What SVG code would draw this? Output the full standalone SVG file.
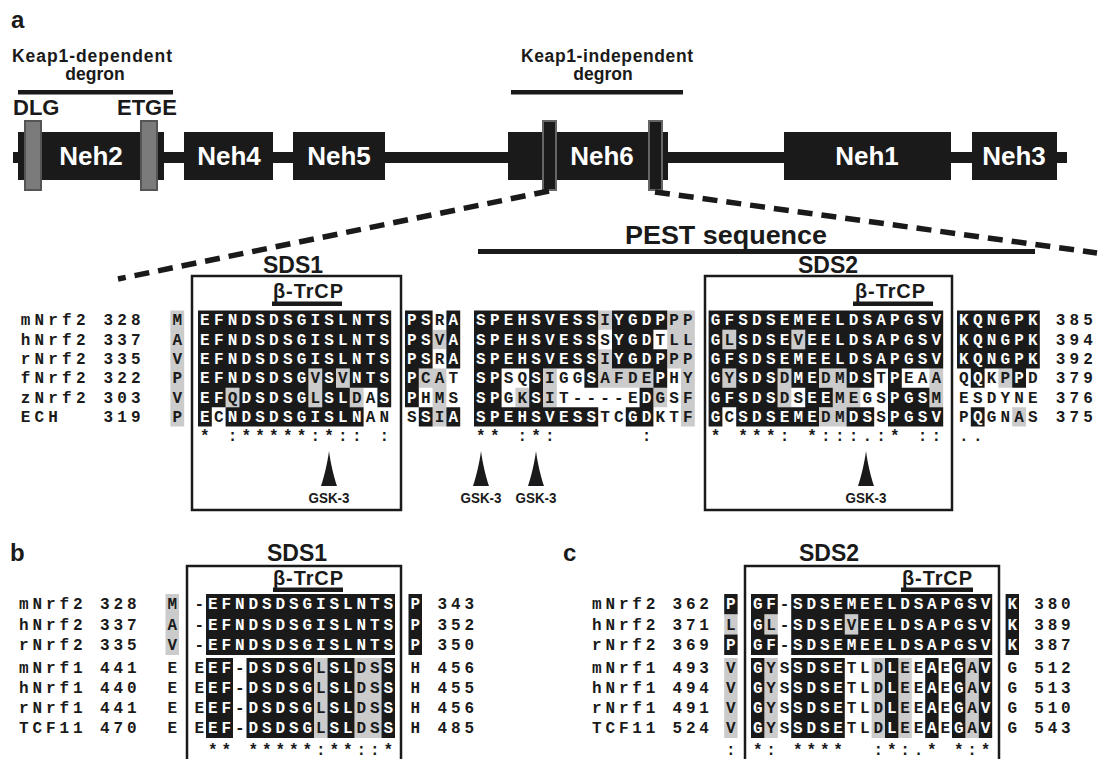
<svg xmlns="http://www.w3.org/2000/svg" width="1101" height="759" viewBox="0 0 1101 759">
<style>
.k{fill:#1a1a1a}
.g{fill:#cbcbcb}
.gb{fill:#7b7b7b;stroke:#555;stroke-width:2}
.sb6{fill:#1a1a1a;stroke:#666;stroke-width:2}
.sq{font-family:"Liberation Mono","Courier New",monospace;font-weight:700;font-size:16px}
.sa{letter-spacing:4.2px}
.sbb{letter-spacing:3.9px}
.sc{letter-spacing:3.8px}
.hv{font-family:"Liberation Sans",Arial,Helvetica,sans-serif;font-weight:700;fill:#1a1a1a}
.dom{font-family:"Liberation Sans",Arial,Helvetica,sans-serif;font-weight:700;font-size:26px;fill:#fff;text-anchor:middle}
.box{fill:none;stroke:#1a1a1a;stroke-width:2.5}
.dash{fill:none;stroke:#1a1a1a;stroke-width:5.5;stroke-dasharray:15 9}
.mid{text-anchor:middle}
</style>
<defs>
<path id="blk" d="M198 310.5h193.2v58h-193.2zM198 368.5h110.4v19.33h-110.4zM322.2 368.5h13.8v19.33h-13.8zM349.8 368.5h41.4v19.33h-41.4zM198 387.83h27.6v19.34h-27.6zM239.4 387.83h69v19.34h-69zM322.2 387.83h27.6v19.34h-27.6zM377.4 387.83h13.8v19.34h-13.8zM198 407.17h13.8v19.33h-13.8zM225.6 407.17h138v19.33h-138zM405 310.5h13.8v96.67h-13.8zM418.8 310.5h13.8v58h-13.8zM418.8 407.17h13.8v19.33h-13.8zM446.4 310.5h13.8v58h-13.8zM446.4 407.17h13.8v19.33h-13.8zM474 310.5h124.2v58h-124.2zM474 407.17h124.2v19.33h-124.2zM474 368.5h27.6v38.67h-27.6zM529.2 368.5h13.8v38.67h-13.8zM584.4 368.5h13.8v19.33h-13.8zM612 310.5h41.4v58h-41.4zM653.4 310.5h13.8v19.33h-13.8zM653.4 349.17h13.8v38.66h-13.8zM639.6 387.83h13.8v19.34h-13.8zM625.8 407.17h27.6v19.33h-27.6zM708.6 310.5h234.6v19.33h-234.6zM708.6 329.83h13.8v19.34h-13.8zM736.2 329.83h55.2v19.34h-55.2zM805.2 329.83h138v19.34h-138zM708.6 349.17h234.6v19.33h-234.6zM708.6 368.5h13.8v19.33h-13.8zM736.2 368.5h41.4v19.33h-41.4zM791.4 368.5h27.6v19.33h-27.6zM846.6 368.5h27.6v19.33h-27.6zM888 368.5h13.8v19.33h-13.8zM708.6 387.83h69v19.34h-69zM805.2 387.83h27.6v19.34h-27.6zM888 387.83h41.4v19.34h-41.4zM708.6 407.17h13.8v19.33h-13.8zM736.2 407.17h82.8v19.33h-82.8zM846.6 407.17h27.6v19.33h-27.6zM888 407.17h55.2v19.33h-55.2zM957 310.5h82.8v58h-82.8zM970.8 368.5h13.8v19.33h-13.8zM1012.2 368.5h13.8v19.33h-13.8zM970.8 407.17h13.8v19.33h-13.8zM206 594h189v60.9h-189zM408.5 594h13.5v60.9h-13.5zM206 658h27v80h-27zM246.5 658h67.5v80h-67.5zM327.5 658h27v80h-27zM381.5 658h13.5v80h-13.5zM724.2 594h13.4v20.3h-13.4zM724.2 634.6h13.4v20.3h-13.4zM751 594h13.4v60.9h-13.4zM764.4 594h13.4v20.3h-13.4zM764.4 634.6h13.4v20.3h-13.4zM791.2 594h201v20.3h-201zM791.2 614.3h53.6v20.3h-53.6zM858.2 614.3h134v20.3h-134zM791.2 634.6h201v20.3h-201zM1005.6 594h13.4v60.9h-13.4zM751 658h13.4v80h-13.4zM791.2 658h53.6v80h-53.6zM885 658h13.4v80h-13.4zM925.2 658h13.4v80h-13.4zM952 658h13.4v80h-13.4zM978.8 658h13.4v80h-13.4z"/>
<path id="gry" d="M170.4 310.5h13.8v116h-13.8zM308.4 368.5h13.8v38.67h-13.8zM336 368.5h13.8v19.33h-13.8zM225.6 387.83h13.8v19.34h-13.8zM349.8 387.83h13.8v19.34h-13.8zM432.6 329.83h13.8v19.34h-13.8zM432.6 368.5h13.8v58h-13.8zM418.8 368.5h13.8v19.33h-13.8zM598.2 310.5h13.8v19.33h-13.8zM598.2 349.17h13.8v38.66h-13.8zM667.2 310.5h27.6v58h-27.6zM681 368.5h13.8v58h-13.8zM543 368.5h13.8v38.67h-13.8zM612 368.5h41.4v19.33h-41.4zM515.4 387.83h13.8v19.34h-13.8zM653.4 387.83h13.8v19.34h-13.8zM722.4 329.83h13.8v19.34h-13.8zM791.4 329.83h13.8v19.34h-13.8zM722.4 368.5h13.8v19.33h-13.8zM777.6 368.5h13.8v38.67h-13.8zM819 368.5h27.6v19.33h-27.6zM929.4 368.5h13.8v38.67h-13.8zM832.8 387.83h27.6v19.34h-27.6zM819 407.17h27.6v19.33h-27.6zM998.4 368.5h13.8v19.33h-13.8zM1012.2 407.17h13.8v19.33h-13.8zM165.5 594h13.5v60.9h-13.5zM314 658h13.5v80h-13.5zM354.5 658h27v80h-27zM724.2 614.3h13.4v20.3h-13.4zM724.2 658h13.4v80h-13.4zM764.4 614.3h13.4v20.3h-13.4zM844.8 614.3h13.4v20.3h-13.4zM764.4 658h13.4v80h-13.4zM871.6 658h13.4v80h-13.4zM898.4 658h13.4v80h-13.4zM965.4 658h13.4v80h-13.4z"/>
<clipPath id="clipBlk"><use href="#blk"/></clipPath>
<path id="gsk" d="M0 0C1.5 12 5 26 8 35L-8 35C-5 26 -1.5 12 0 0Z"/>
<g id="seq" class="sq">
<g class="sa">
<text x="20.7" y="325.4">mNrf2</text><text x="103.5" y="325.4">328</text><text x="172.5" y="325.4">M</text><text x="200.1" y="325.4">EFNDSDSGISLNTS</text><text x="407.1" y="325.4">PSRA</text><text x="476.1" y="325.4">SPEHSVESSIYGDPPP</text><text x="710.7" y="325.4">GFSDSEMEELDSAPGSV</text><text x="959.1" y="325.4">KQNGPK</text><text x="1055.7" y="325.4">385</text>
<text x="20.7" y="344.7">hNrf2</text><text x="103.5" y="344.7">337</text><text x="172.5" y="344.7">A</text><text x="200.1" y="344.7">EFNDSDSGISLNTS</text><text x="407.1" y="344.7">PSVA</text><text x="476.1" y="344.7">SPEHSVESSSYGDTLL</text><text x="710.7" y="344.7">GLSDSEVEELDSAPGSV</text><text x="959.1" y="344.7">KQNGPK</text><text x="1055.7" y="344.7">394</text>
<text x="20.7" y="364.1">rNrf2</text><text x="103.5" y="364.1">335</text><text x="172.5" y="364.1">V</text><text x="200.1" y="364.1">EFNDSDSGISLNTS</text><text x="407.1" y="364.1">PSRA</text><text x="476.1" y="364.1">SPEHSVESSIYGDPPP</text><text x="710.7" y="364.1">GFSDSEMEELDSAPGSV</text><text x="959.1" y="364.1">KQNGPK</text><text x="1055.7" y="364.1">392</text>
<text x="20.7" y="383.4">fNrf2</text><text x="103.5" y="383.4">322</text><text x="172.5" y="383.4">P</text><text x="200.1" y="383.4">EFNDSDSGVSVNTS</text><text x="407.1" y="383.4">PCAT</text><text x="476.1" y="383.4">SPSQSIGGSAFDEPHY</text><text x="710.7" y="383.4">GYSDSDMEDMDSTPEAA</text><text x="959.1" y="383.4">QQKPPD</text><text x="1055.7" y="383.4">379</text>
<text x="20.7" y="402.7">zNrf2</text><text x="103.5" y="402.7">303</text><text x="172.5" y="402.7">V</text><text x="200.1" y="402.7">EFQDSDSGLSLDAS</text><text x="407.1" y="402.7">PHMS</text><text x="476.1" y="402.7">SPGKSIT----EDGSF</text><text x="710.7" y="402.7">GFSDSDSEEMEGSPGSM</text><text x="959.1" y="402.7">ESDYNE</text><text x="1055.7" y="402.7">376</text>
<text x="20.7" y="422.1">ECH</text><text x="103.5" y="422.1">319</text><text x="172.5" y="422.1">P</text><text x="200.1" y="422.1">ECNDSDSGISLNAN</text><text x="407.1" y="422.1">SSIA</text><text x="476.1" y="422.1">SPEHSVESSTCGDKTF</text><text x="710.7" y="422.1">GCSDSEMEDMDSSPGSV</text><text x="959.1" y="422.1">PQGNAS</text><text x="1055.7" y="422.1">375</text>
<text x="200.1" y="440.5">*</text><text x="227.7" y="440.5">:*****:*::</text><text x="379.5" y="440.5">:</text><text x="476.1" y="440.5">**</text><text x="517.5" y="440.5">:*:</text><text x="641.7" y="440.5">:</text><text x="710.7" y="440.5">*</text><text x="738.3" y="440.5">***:</text><text x="807.3" y="440.5">*:::.:*</text><text x="917.7" y="440.5">::</text><text x="959.1" y="440.5">..</text>
</g>
<g class="sbb">
<text x="18.95" y="609.4">mNrf2</text><text x="99.95" y="609.4">328</text><text x="167.45" y="609.4">M</text><text x="194.45" y="609.4">-EFNDSDSGISLNTS</text><text x="410.45" y="609.4">P</text><text x="437.45" y="609.4">343</text>
<text x="18.95" y="629.7">hNrf2</text><text x="99.95" y="629.7">337</text><text x="167.45" y="629.7">A</text><text x="194.45" y="629.7">-EFNDSDSGISLNTS</text><text x="410.45" y="629.7">P</text><text x="437.45" y="629.7">352</text>
<text x="18.95" y="650">rNrf2</text><text x="99.95" y="650">335</text><text x="167.45" y="650">V</text><text x="194.45" y="650">-EFNDSDSGISLNTS</text><text x="410.45" y="650">P</text><text x="437.45" y="650">350</text>
<text x="18.95" y="673.2">mNrf1</text><text x="99.95" y="673.2">441</text><text x="167.45" y="673.2">E</text><text x="194.45" y="673.2">EEF-DSDSGLSLDSS</text><text x="410.45" y="673.2">H</text><text x="437.45" y="673.2">456</text>
<text x="18.95" y="693.2">hNrf1</text><text x="99.95" y="693.2">440</text><text x="167.45" y="693.2">E</text><text x="194.45" y="693.2">EEF-DSDSGLSLDSS</text><text x="410.45" y="693.2">H</text><text x="437.45" y="693.2">455</text>
<text x="18.95" y="713.2">rNrf1</text><text x="99.95" y="713.2">441</text><text x="167.45" y="713.2">E</text><text x="194.45" y="713.2">EEF-DSDSGLSLDSS</text><text x="410.45" y="713.2">H</text><text x="437.45" y="713.2">456</text>
<text x="18.95" y="733.2">TCF11</text><text x="99.95" y="733.2">470</text><text x="167.45" y="733.2">E</text><text x="194.45" y="733.2">EEF-DSDSGLSLDSS</text><text x="410.45" y="733.2">H</text><text x="437.45" y="733.2">485</text>
<text x="207.95" y="755">**</text><text x="248.45" y="755">*****:**::*</text>
</g>
<g class="sc">
<text x="592.1" y="609.4">mNrf2</text><text x="672.5" y="609.4">362</text><text x="726.1" y="609.4">P</text><text x="752.9" y="609.4">GF-SDSEMEELDSAPGSV</text><text x="1007.5" y="609.4">K</text><text x="1034.3" y="609.4">380</text>
<text x="592.1" y="629.7">hNrf2</text><text x="672.5" y="629.7">371</text><text x="726.1" y="629.7">L</text><text x="752.9" y="629.7">GL-SDSEVEELDSAPGSV</text><text x="1007.5" y="629.7">K</text><text x="1034.3" y="629.7">389</text>
<text x="592.1" y="650">rNrf2</text><text x="672.5" y="650">369</text><text x="726.1" y="650">P</text><text x="752.9" y="650">GF-SDSEMEELDSAPGSV</text><text x="1007.5" y="650">K</text><text x="1034.3" y="650">387</text>
<text x="592.1" y="673.2">mNrf1</text><text x="672.5" y="673.2">493</text><text x="726.1" y="673.2">V</text><text x="752.9" y="673.2">GYSSDSETLDLEEAEGAV</text><text x="1007.5" y="673.2">G</text><text x="1034.3" y="673.2">512</text>
<text x="592.1" y="693.2">hNrf1</text><text x="672.5" y="693.2">494</text><text x="726.1" y="693.2">V</text><text x="752.9" y="693.2">GYSSDSETLDLEEAEGAV</text><text x="1007.5" y="693.2">G</text><text x="1034.3" y="693.2">513</text>
<text x="592.1" y="713.2">rNrf1</text><text x="672.5" y="713.2">491</text><text x="726.1" y="713.2">V</text><text x="752.9" y="713.2">GYSSDSETLDLEEAEGAV</text><text x="1007.5" y="713.2">G</text><text x="1034.3" y="713.2">510</text>
<text x="592.1" y="733.2">TCF11</text><text x="672.5" y="733.2">524</text><text x="726.1" y="733.2">V</text><text x="752.9" y="733.2">GYSSDSETLDLEEAEGAV</text><text x="1007.5" y="733.2">G</text><text x="1034.3" y="733.2">543</text>
<text x="726.1" y="755">:</text><text x="752.9" y="755">*:</text><text x="793.1" y="755">****</text><text x="873.5" y="755">:*:.*</text><text x="953.9" y="755">*:*</text>
</g>
</g>
</defs>
<rect width="1101" height="759" fill="#fff"/>

<text class="hv" x="11" y="28" font-size="24">a</text>

<g id="domain-map">
<rect id="backbone" class="k" x="13" y="152" width="1054" height="11"/>
<g id="neh2"><rect class="k" x="18" y="132" width="146" height="48"/><text class="dom" x="91" y="165">Neh2</text></g>
<g id="dlg"><rect class="gb" x="25" y="121" width="16" height="69"/><text class="hv" x="13" y="115" font-size="22">DLG</text></g>
<g id="etge"><rect class="gb" x="141" y="121" width="16" height="69"/><text class="hv" x="117" y="115" font-size="22">ETGE</text></g>
<g id="neh4"><rect class="k" x="184" y="132" width="89" height="48"/><text class="dom" x="229" y="165">Neh4</text></g>
<g id="neh5"><rect class="k" x="293" y="132" width="92" height="48"/><text class="dom" x="339" y="165">Neh5</text></g>
<g id="neh6"><rect class="k" x="508" y="132" width="160" height="48"/><rect class="sb6" x="543" y="121" width="13" height="69"/><rect class="sb6" x="649" y="121" width="13" height="69"/><text class="dom" x="602" y="165">Neh6</text></g>
<g id="neh1"><rect class="k" x="784" y="132" width="167" height="48"/><text class="dom" x="867" y="165">Neh1</text></g>
<g id="neh3"><rect class="k" x="972" y="132" width="85" height="48"/><text class="dom" x="1014" y="165">Neh3</text></g>
<g id="keap1-dep"><text class="hv mid" x="92" y="62" font-size="17.5" textLength="160">Keap1-dependent</text><text class="hv mid" x="95" y="80" font-size="17.5">degron</text><rect class="k" x="18" y="90" width="155" height="4.5"/></g>
<g id="keap1-indep"><text class="hv mid" x="607" y="62" font-size="17.5" textLength="172">Keap1-independent</text><text class="hv mid" x="603" y="80" font-size="17.5">degron</text><rect class="k" x="511" y="90" width="172" height="4.5"/></g>
</g>

<g id="connectors">
<path class="dash" d="M549 191L118 279"/>
<path class="dash" d="M655 192L1097 253"/>
</g>

<g id="labels-a">
<text class="hv mid" x="726" y="244" font-size="25" textLength="202" lengthAdjust="spacingAndGlyphs">PEST sequence</text>
<rect class="k" x="478" y="249" width="557" height="5"/>
<text class="hv mid" x="293" y="273" font-size="23">SDS1</text>
<text class="hv mid" x="828" y="273" font-size="23">SDS2</text>
<text class="hv mid" x="308" y="298" font-size="20" textLength="70">β-TrCP</text>
<rect class="k" x="272" y="301.5" width="70" height="4.5"/>
<text class="hv mid" x="890" y="298" font-size="20" textLength="70">β-TrCP</text>
<rect class="k" x="853" y="301.5" width="80" height="4.5"/>
</g>

<g id="shading">
<use href="#gry" class="g"/>
<use href="#blk" class="k"/>
</g>
<g id="sequences">
<use href="#seq" fill="#1a1a1a"/>
<use href="#seq" fill="#ffffff" clip-path="url(#clipBlk)"/>
</g>

<g id="boxes">
<rect class="box" x="192" y="276" width="209" height="234"/>
<rect class="box" x="705" y="276" width="247" height="234"/>
<path class="box" d="M187 762V566H401V762"/>
<path class="box" d="M745 762V566H999V762"/>
</g>

<g id="gsk3">
<use href="#gsk" x="329" y="451" class="k"/>
<use href="#gsk" x="481" y="451" class="k"/>
<use href="#gsk" x="536" y="451" class="k"/>
<use href="#gsk" x="866" y="451" class="k"/>
<text class="hv mid" x="329" y="503" font-size="15" textLength="41" lengthAdjust="spacingAndGlyphs">GSK-3</text>
<text class="hv mid" x="481" y="503" font-size="15" textLength="41" lengthAdjust="spacingAndGlyphs">GSK-3</text>
<text class="hv mid" x="536" y="503" font-size="15" textLength="41" lengthAdjust="spacingAndGlyphs">GSK-3</text>
<text class="hv mid" x="866" y="503" font-size="15" textLength="41" lengthAdjust="spacingAndGlyphs">GSK-3</text>
</g>

<g id="panel-b-labels">
<text class="hv" x="10" y="561" font-size="24">b</text>
<text class="hv mid" x="297" y="561" font-size="23">SDS1</text>
<text class="hv mid" x="308" y="585" font-size="20" textLength="70">β-TrCP</text>
<rect class="k" x="273" y="587.5" width="70" height="4.5"/>
</g>
<g id="panel-c-labels">
<text class="hv" x="563" y="561" font-size="24">c</text>
<text class="hv mid" x="829" y="561" font-size="23">SDS2</text>
<text class="hv mid" x="937" y="585" font-size="20" textLength="70">β-TrCP</text>
<rect class="k" x="901" y="587.5" width="72" height="4.5"/>
</g>
</svg>
